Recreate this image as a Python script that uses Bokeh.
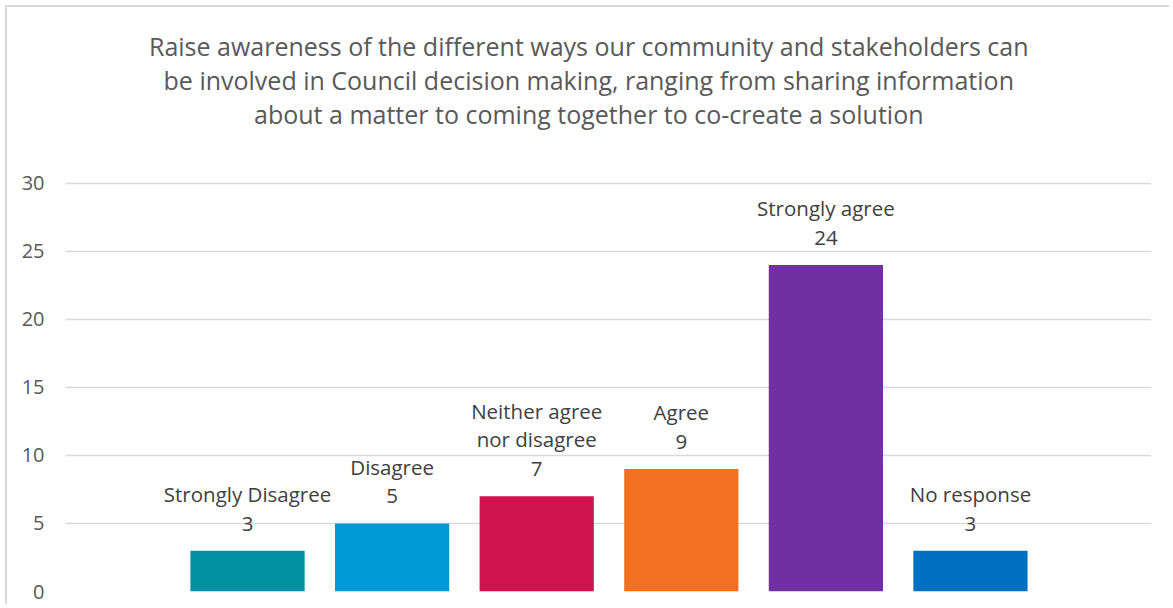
from bokeh.plotting import figure
from bokeh.models import ColumnDataSource, Range1d, FixedTicker
from bokeh.core.properties import value
from bokeh.embed import file_html
from bokeh.resources import INLINE

categories = ["Strongly Disagree", "Disagree", "Neither agree\nnor disagree", "Agree", "Strongly agree", "No response"]
counts = [3, 5, 7, 9, 24, 3]
colors = ["#0090A4", "#009AD7", "#CF1250", "#F37021", "#70309F", "#0070C0"]
y_ticks = [0, 5, 10, 15, 20, 25, 30]
title_lines = [
    "Raise awareness of the different ways our community and stakeholders can",
    "be involved in Council decision making, ranging from sharing information",
    "about a matter to coming together to co-create a solution",
]

FONT = "Open Sans"
xs = list(range(len(categories)))
labels = [f"{c}\n{v}" for c, v in zip(categories, counts)]
src = ColumnDataSource(dict(x=xs, top=counts, color=colors, label=labels))

p = figure(width=1164, height=599, output_backend="svg", toolbar_location=None,
           x_range=Range1d(-1.259, 6.252), y_range=Range1d(0, 42.94),
           min_border_left=58, min_border_right=20, min_border_top=0, min_border_bottom=15)
p.styles = {"margin-left": "5px", "margin-top": "5px",
            "border-top": "2px solid #d9d9d9", "border-left": "2px solid #d9d9d9"}
p.outline_line_color = None
p.background_fill_color = "white"

p.vbar(x="x", top="top", bottom=0, width=0.79, fill_color="color", line_color=None, source=src)
p.text(x="x", y="top", text="label", source=src, text_align="center", text_baseline="bottom",
       y_offset=-14, text_font=value(FONT), text_font_size="20.5px", text_color="#404040",
       text_line_height=1.03)

title_src = ColumnDataSource(dict(x=[2.36] * 3, y=[40.12, 37.62, 35.12], text=title_lines))
p.text(x="x", y="y", text="text", source=title_src, text_align="center", text_baseline="alphabetic",
       text_font=value(FONT), text_font_size="25px", text_color="#595959")

p.xaxis.visible = False
p.xgrid.visible = False
p.yaxis.ticker = FixedTicker(ticks=y_ticks)
p.yaxis.axis_line_color = None
p.yaxis.major_tick_line_color = None
p.yaxis.minor_tick_line_color = None
p.yaxis.major_label_standoff = 15
p.yaxis.major_label_text_font = FONT
p.yaxis.major_label_text_font_size = "20px"
p.yaxis.major_label_text_color = "#595959"
p.ygrid.grid_line_color = "#d9d9d9"
p.ygrid.grid_line_width = 1.5

open("out.html", "w").write(file_html(p, INLINE))
